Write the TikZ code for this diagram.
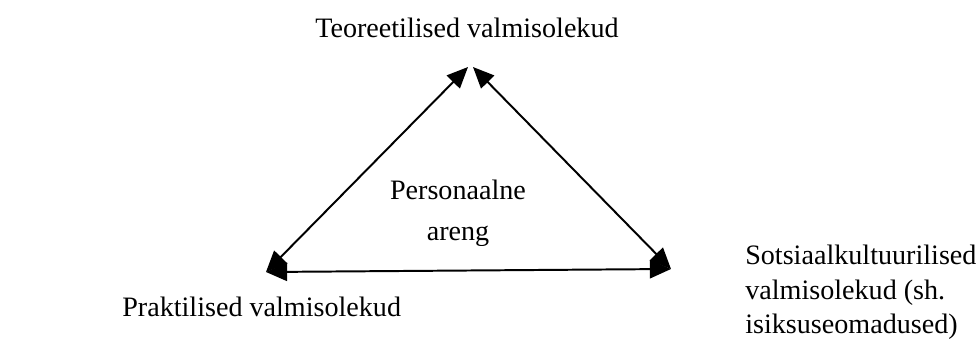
\documentclass[tikz,border=0pt]{standalone}
\usepackage{fontspec}
\setmainfont{Liberation Serif}
\usetikzlibrary{arrows.meta}
\begin{document}
\begin{tikzpicture}[line cap=round,line join=round,
  link/.style={{Triangle[length=15pt,width=13pt]}-{Triangle[length=15pt,width=13pt]},line width=1.4pt},
  lbl/.style={font=\fontsize{20}{24.5}\selectfont,inner sep=0pt}]
  \useasboundingbox (0,0) rectangle (24.5,8.45);
  \coordinate (tl) at (11.7,6.775); \coordinate (tr) at (11.825,6.775);
  \coordinate (bl) at (6.65,1.65); \coordinate (br) at (16.775,1.725);
  \draw[link] (bl)--(tl); \draw[link] (tr)--(br); \draw[link] (bl)--(br);
  \node[lbl,anchor=base west] (teo) at (7.875,7.5) {Teoreetilised valmisolekud};
  \begin{scope}
    \clip (0,2.325) rectangle (24.5,8.45);
    \node[lbl,font=\fontsize{20}{29}\selectfont,align=center,anchor=north] (pers) at (11.45,3.95) {Personaalne\\areng};
  \end{scope}
  \node[lbl,align=left,anchor=north west] (sots) at (18.625,2.325) {Sotsiaalkultuurilised\\valmisolekud (sh.\\isiksuseomadused)};
  \node[lbl,anchor=base west] (prak) at (3.05,0.55) {Praktilised valmisolekud};
\end{tikzpicture}
\end{document}
